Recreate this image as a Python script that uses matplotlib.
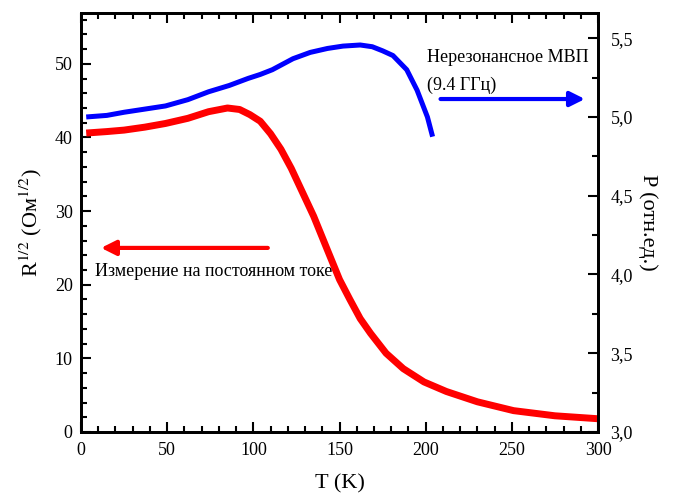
import numpy as np
import matplotlib
matplotlib.use('Agg')
import matplotlib.pyplot as plt
from matplotlib.ticker import MultipleLocator, FuncFormatter

plt.rcParams['font.family'] = ['Liberation Serif', 'DejaVu Serif']
plt.rcParams['mathtext.fontset'] = 'stix'

# R^1/2 (DC measurement), left axis
t_dc = [3, 15, 25, 37, 49, 62, 74, 85, 92, 98, 104, 110, 116, 122, 127, 135,
        143, 150, 156, 162, 168, 177, 187, 199, 212, 230, 251, 275, 300]
r_dc = [40.6, 40.8, 41.0, 41.4, 41.9, 42.6, 43.5, 44.0, 43.8, 43.1, 42.2, 40.5,
        38.4, 35.8, 33.3, 29.3, 24.7, 20.7, 18.0, 15.4, 13.4, 10.7, 8.6, 6.8,
        5.5, 4.1, 2.9, 2.2, 1.8]

# P (microwave 9.4 GHz), right axis
t_mw = [3, 15, 25, 37, 49, 62, 74, 86, 97, 104, 111, 123, 133, 143, 152, 162,
        169, 175, 181, 189, 195, 201, 204]
p_mw = [5.00, 5.01, 5.03, 5.05, 5.07, 5.11, 5.16, 5.20, 5.245, 5.27, 5.30, 5.37,
        5.41, 5.435, 5.45, 5.457, 5.446, 5.42, 5.39, 5.30, 5.17, 5.00, 4.875]

fig = plt.figure(figsize=(6.73, 4.97), dpi=100)
ax = fig.add_axes([0.1204, 0.1308, 0.7682, 0.843])
ax2 = ax.twinx()

ax.plot(t_dc, r_dc, color='#ff0000', lw=5, solid_capstyle='butt')
ax2.plot(t_mw, p_mw, color='#0000ff', lw=3.6, solid_capstyle='butt')

ax.set_xlim(0, 300)
ax.set_ylim(0, 56.9)
ax2.set_ylim(3.0, 5.66)

ax.xaxis.set_major_locator(MultipleLocator(50))
ax.xaxis.set_minor_locator(MultipleLocator(10))
ax.yaxis.set_major_locator(MultipleLocator(10))
ax.yaxis.set_minor_locator(MultipleLocator(2))
ax2.yaxis.set_major_locator(MultipleLocator(0.5))
ax2.yaxis.set_minor_locator(MultipleLocator(0.25))
ax2.yaxis.set_major_formatter(FuncFormatter(lambda v, p: ('%.1f' % v).replace('.', ',')))

ax.tick_params(which='both', direction='in', top=True, right=False, labelsize=13, width=1.5)
ax.tick_params(which='major', length=7)
ax.tick_params(which='minor', length=4)
ax.tick_params(axis='x', which='major', pad=7)
ax.tick_params(axis='y', which='major', pad=6)
ax2.tick_params(which='both', direction='in', labelsize=13, width=1.5)
ax2.tick_params(which='major', length=7, pad=9)
ax2.tick_params(which='minor', length=4)
for a in (ax, ax2):
    for s in a.spines.values():
        s.set_linewidth(2)

ax.set_xlabel('T (K)', fontsize=16, labelpad=11)
ax.set_ylabel(r'R$^{1/2}$ (Ом$^{1/2}$)', fontsize=16, labelpad=8)
ax2.set_ylabel('P (отн.ед.)', fontsize=16, rotation=-90, labelpad=18)

ax.annotate('', xy=(10, 25.0), xytext=(110, 25.0),
            arrowprops=dict(arrowstyle='-|>', color='#ff0000', lw=3, mutation_scale=22))
ax.text(8, 21.8, 'Измерение на постоянном токе', fontsize=13, va='center')

ax2.annotate('', xy=(294, 5.114), xytext=(207, 5.114),
             arrowprops=dict(arrowstyle='-|>', color='#0000ff', lw=3, mutation_scale=22))
ax2.text(201, 5.375, 'Нерезонансное МВП', fontsize=13, va='center')
ax2.text(201, 5.20, '(9.4 ГГц)', fontsize=13, va='center')

fig.savefig('out.png', dpi=100)
